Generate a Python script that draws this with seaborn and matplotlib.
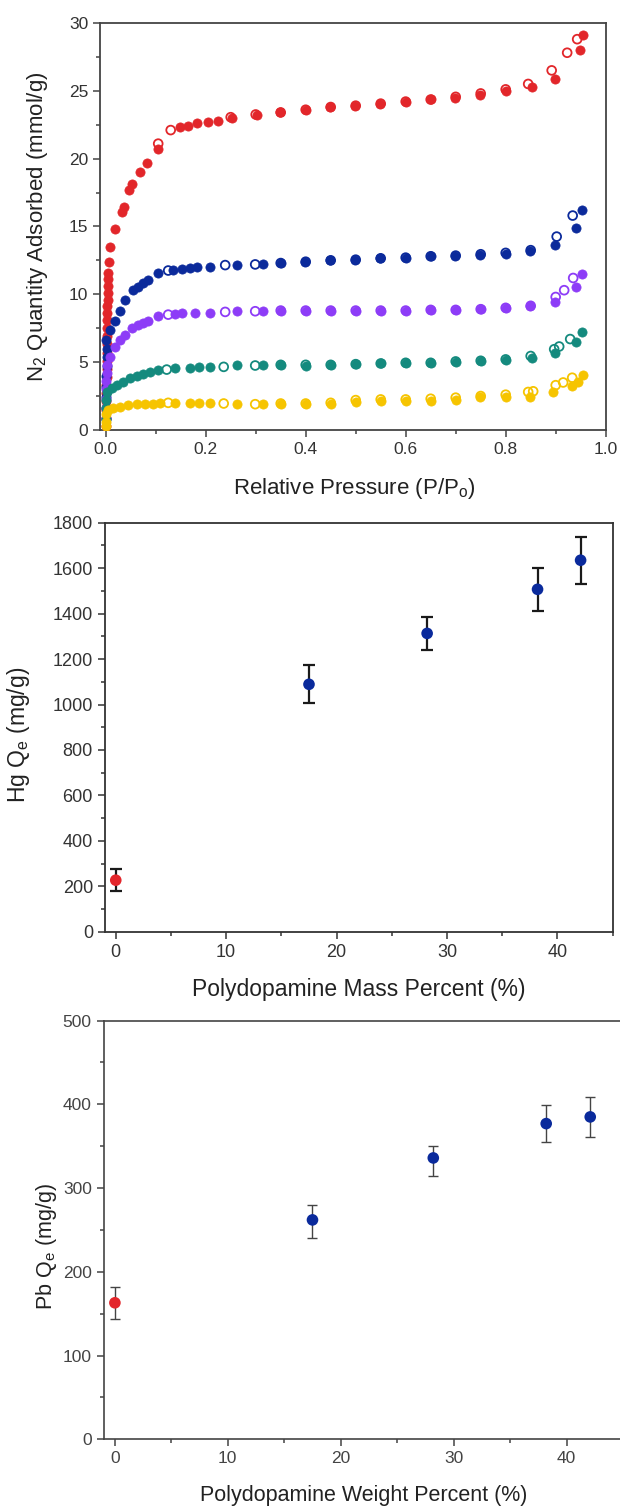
import seaborn as sns
import matplotlib.pyplot as plt
from matplotlib.ticker import MultipleLocator, FormatStrFormatter

sns.set_style("ticks")
plt.rcParams['font.family'] = ['Liberation Sans', 'DejaVu Sans']
plt.rcParams['mathtext.fontset'] = 'custom'
plt.rcParams['mathtext.rm'] = 'Liberation Sans'
plt.rcParams['mathtext.it'] = 'Liberation Sans'

# ---- N2 isotherms: filled = adsorption, open = desorption ----
red_ads_x = [0.000, 0.000, 0.001, 0.001, 0.001, 0.001, 0.002, 0.002, 0.002, 0.002,
             0.002, 0.003, 0.003, 0.003, 0.003, 0.003, 0.004, 0.004, 0.004, 0.005,
             0.005, 0.006, 0.009, 0.019, 0.033, 0.037, 0.047, 0.053, 0.069, 0.082,
             0.104, 0.149, 0.165, 0.182, 0.205, 0.225, 0.252, 0.302, 0.349, 0.400,
             0.449, 0.499, 0.549, 0.600, 0.650, 0.699, 0.749, 0.800, 0.852, 0.899,
             0.949, 0.955]
red_ads_y = [0.3, 0.9, 1.5, 2.1, 2.7, 3.3, 3.9, 4.5, 5.1, 5.7,
             6.3, 6.9, 7.5, 8.1, 8.6, 9.1, 9.6, 10.1, 10.6, 11.1,
             11.6, 12.4, 13.5, 14.8, 16.1, 16.4, 17.7, 18.1, 19.0, 19.7,
             20.7, 22.3, 22.4, 22.6, 22.7, 22.8, 23.0, 23.2, 23.4, 23.6,
             23.8, 23.9, 24.0, 24.2, 24.4, 24.5, 24.7, 25.0, 25.3, 25.9,
             28.0, 29.1]
red_des_x = [0.943, 0.923, 0.892, 0.845, 0.800, 0.750, 0.700, 0.650, 0.600, 0.550,
             0.500, 0.450, 0.400, 0.350, 0.300, 0.250, 0.130, 0.105]
red_des_y = [28.8, 27.8, 26.5, 25.5, 25.1, 24.8, 24.55, 24.35, 24.2, 24.05,
             23.9, 23.8, 23.6, 23.4, 23.25, 23.05, 22.1, 21.1]

blue_ads_x = [0.000, 0.000, 0.001, 0.001, 0.001, 0.002, 0.002, 0.002, 0.001, 0.009,
              0.019, 0.029, 0.039, 0.054, 0.065, 0.075, 0.084, 0.105, 0.135, 0.152,
              0.169, 0.183, 0.209, 0.262, 0.315, 0.351, 0.399, 0.449, 0.499, 0.549,
              0.600, 0.650, 0.699, 0.749, 0.800, 0.849, 0.899, 0.941, 0.952]
blue_ads_y = [0.8, 1.6, 2.4, 3.2, 4.0, 4.7, 5.4, 6.0, 6.6, 7.4,
              8.0, 8.8, 9.6, 10.3, 10.5, 10.8, 11.05, 11.6, 11.8, 11.85,
              11.9, 12.0, 12.0, 12.15, 12.25, 12.3, 12.4, 12.5, 12.55, 12.65,
              12.7, 12.8, 12.85, 12.9, 13.0, 13.2, 13.6, 14.9, 16.2]
blue_des_x = [0.934, 0.902, 0.850, 0.800, 0.750, 0.700, 0.650, 0.600, 0.550, 0.500,
              0.450, 0.400, 0.350, 0.299, 0.239, 0.125]
blue_des_y = [15.8, 14.25, 13.25, 13.05, 12.95, 12.85, 12.8, 12.7, 12.65, 12.55,
              12.5, 12.4, 12.3, 12.2, 12.15, 11.75]

purple_ads_x = [0.000, 0.000, 0.001, 0.001, 0.001, 0.002, 0.002, 0.009, 0.019, 0.029,
                0.039, 0.052, 0.065, 0.075, 0.085, 0.105, 0.139, 0.152, 0.179, 0.209,
                0.262, 0.315, 0.351, 0.400, 0.450, 0.500, 0.550, 0.600, 0.650, 0.700,
                0.750, 0.800, 0.849, 0.899, 0.941, 0.952]
purple_ads_y = [0.9, 1.6, 2.3, 3.0, 3.6, 4.2, 4.8, 5.4, 6.1, 6.6,
                7.0, 7.5, 7.75, 7.85, 8.0, 8.4, 8.55, 8.6, 8.65, 8.65,
                8.75, 8.8, 8.8, 8.8, 8.8, 8.8, 8.8, 8.8, 8.85, 8.85,
                8.9, 8.97, 9.1, 9.4, 10.5, 11.5]
purple_des_x = [0.935, 0.917, 0.900, 0.850, 0.800, 0.750, 0.700, 0.650, 0.600, 0.550,
                0.500, 0.450, 0.400, 0.350, 0.299, 0.239, 0.125]
purple_des_y = [11.2, 10.3, 9.8, 9.15, 9.0, 8.9, 8.85, 8.85, 8.8, 8.8,
                8.8, 8.8, 8.8, 8.8, 8.75, 8.7, 8.5]

teal_ads_x = [0.000, 0.000, 0.001, 0.002, 0.012, 0.022, 0.035, 0.049, 0.062, 0.075,
              0.089, 0.105, 0.139, 0.169, 0.186, 0.209, 0.262, 0.315, 0.351, 0.400,
              0.450, 0.500, 0.550, 0.600, 0.650, 0.700, 0.750, 0.800, 0.852, 0.899,
              0.941, 0.953]
teal_ads_y = [0.8, 1.6, 2.2, 2.8, 3.1, 3.3, 3.55, 3.8, 4.0, 4.1,
              4.3, 4.45, 4.6, 4.6, 4.65, 4.65, 4.8, 4.8, 4.8, 4.75,
              4.8, 4.85, 4.9, 4.9, 4.95, 5.0, 5.05, 5.15, 5.3, 5.65,
              6.45, 7.25]
teal_des_x = [0.929, 0.907, 0.897, 0.850, 0.800, 0.750, 0.700, 0.650, 0.600, 0.550,
              0.500, 0.450, 0.400, 0.350, 0.299, 0.236, 0.122]
teal_des_y = [6.7, 6.15, 5.95, 5.45, 5.2, 5.1, 5.05, 4.95, 4.95, 4.9,
              4.85, 4.8, 4.8, 4.8, 4.75, 4.65, 4.45]

yellow_ads_x = [0.000, 0.000, 0.001, 0.005, 0.015, 0.029, 0.045, 0.062, 0.079, 0.095,
                0.109, 0.139, 0.169, 0.186, 0.209, 0.262, 0.315, 0.351, 0.400, 0.450,
                0.500, 0.550, 0.600, 0.650, 0.700, 0.749, 0.800, 0.849, 0.895, 0.933,
                0.945, 0.954]
yellow_ads_y = [0.3, 0.6, 1.2, 1.45, 1.6, 1.7, 1.85, 1.9, 1.95, 1.95,
                2.0, 2.0, 2.0, 2.0, 2.0, 1.9, 1.95, 1.95, 1.95, 1.95,
                2.05, 2.1, 2.1, 2.15, 2.2, 2.4, 2.45, 2.45, 2.8, 3.25,
                3.55, 4.05]
yellow_des_x = [0.933, 0.915, 0.900, 0.855, 0.845, 0.800, 0.750, 0.700, 0.650, 0.600,
                0.550, 0.500, 0.450, 0.400, 0.350, 0.299, 0.236, 0.125]
yellow_des_y = [3.85, 3.5, 3.3, 2.85, 2.8, 2.6, 2.5, 2.38, 2.3, 2.25,
                2.25, 2.2, 2.0, 1.95, 1.95, 1.9, 1.95, 2.0]

isotherms = [
    ("#e2262a", red_ads_x, red_ads_y, red_des_x, red_des_y),
    ("#0b2a9b", blue_ads_x, blue_ads_y, blue_des_x, blue_des_y),
    ("#8d3cf7", purple_ads_x, purple_ads_y, purple_des_x, purple_des_y),
    ("#148a7e", teal_ads_x, teal_ads_y, teal_des_x, teal_des_y),
    ("#f6c400", yellow_ads_x, yellow_ads_y, yellow_des_x, yellow_des_y),
]

# ---- Hg uptake ----
hg_x = [0, 17.5, 28.2, 38.2, 42.1]
hg_y = [227, 1089, 1313, 1507, 1635]
hg_err = [48, 84, 73, 95, 104]
hg_colors = ["#e3262b", "#0a2a9c", "#0a2a9c", "#0a2a9c", "#0a2a9c"]

# ---- Pb uptake ----
pb_x = [0, 17.5, 28.2, 38.2, 42.1]
pb_y = [163, 262, 336, 377, 385]
pb_err_lo = [19, 22, 22, 22, 24]
pb_err_hi = [19, 18, 14, 22, 24]
pb_colors = ["#e3262b", "#0a2a9c", "#0a2a9c", "#0a2a9c", "#0a2a9c"]


def style_axes(ax, spine_color, lw, label_color):
    for side in ["left", "bottom", "top", "right"]:
        ax.spines[side].set_color(spine_color)
        ax.spines[side].set_linewidth(lw)
    ax.tick_params(which="major", direction="out", length=5, width=1.1,
                   color=spine_color, labelcolor=label_color, pad=3.5,
                   top=False, right=False)
    ax.tick_params(which="minor", direction="out", length=3, width=1.1,
                   color=spine_color, top=False, right=False)


fig = plt.figure(figsize=(6.2, 15.06), dpi=100)

# ---------------- top panel ----------------
ax1 = fig.add_axes([0.1613, 0.7145, 0.8156, 0.2703])
for c, ax_x, ax_y, de_x, de_y in isotherms:
    sns.scatterplot(x=de_x, y=de_y, ax=ax1, marker="o", s=40,
                    facecolor="none", edgecolor=c, linewidth=1.3, zorder=2)
    sns.scatterplot(x=ax_x, y=ax_y, ax=ax1, marker="o", s=44,
                    color=c, edgecolor=c, linewidth=0.5, zorder=3)
ax1.set_xlim(-0.0114, 1.0)
ax1.set_ylim(0, 30)
ax1.xaxis.set_major_locator(MultipleLocator(0.2))
ax1.xaxis.set_minor_locator(MultipleLocator(0.1))
ax1.xaxis.set_major_formatter(FormatStrFormatter("%.1f"))
ax1.yaxis.set_major_locator(MultipleLocator(5))
ax1.yaxis.set_minor_locator(MultipleLocator(2.5))
style_axes(ax1, "#444444", 1.3, "#333333")
ax1.tick_params(labelsize=12.5)
ax1.set_xlabel("Relative Pressure (P/P$_\\mathregular{o}$)", fontsize=16, color="#222222")
ax1.set_ylabel("N$_\\mathregular{2}$ Quantity Adsorbed (mmol/g)", fontsize=16, color="#222222")
ax1.xaxis.set_label_coords(0.502, -0.112)
ax1.yaxis.set_label_coords(-0.099, 0.5)

# ---------------- middle panel ----------------
ax2 = fig.add_axes([0.1689, 0.3813, 0.8192, 0.2716])
ax2.errorbar(hg_x, hg_y, yerr=hg_err, fmt="none", ecolor="#1a1a1a",
             elinewidth=1.6, capsize=4, capthick=1.6, zorder=2)
sns.scatterplot(x=hg_x, y=hg_y, hue=hg_x, palette=hg_colors, ax=ax2,
                marker="o", s=70, edgecolor="none", legend=False, zorder=3)
ax2.set_xlim(-1, 45)
ax2.set_ylim(0, 1800)
ax2.xaxis.set_major_locator(MultipleLocator(10))
ax2.xaxis.set_minor_locator(MultipleLocator(5))
ax2.yaxis.set_major_locator(MultipleLocator(200))
ax2.yaxis.set_minor_locator(MultipleLocator(100))
style_axes(ax2, "#333333", 1.3, "#333333")
ax2.tick_params(labelsize=13)
ax2.set_xlabel("Polydopamine Mass Percent (%)", fontsize=16.5, color="#222222")
ax2.set_ylabel("Hg Q$_\\mathregular{e}$ (mg/g)", fontsize=16.5, color="#222222")
ax2.xaxis.set_label_coords(0.5, -0.113)
ax2.yaxis.set_label_coords(-0.144, 0.48)

# ---------------- bottom panel ----------------
ax3 = fig.add_axes([0.1671, 0.0443, 0.8377, 0.2780])
ax3.errorbar(pb_x, pb_y, yerr=[pb_err_lo, pb_err_hi], fmt="none",
             ecolor="#444444", elinewidth=1.0, capsize=3.5, capthick=1.0, zorder=2)
sns.scatterplot(x=pb_x, y=pb_y, hue=pb_x, palette=pb_colors, ax=ax3,
                marker="o", s=70, edgecolor="none", legend=False, zorder=3)
ax3.set_xlim(-1, 45)
ax3.set_ylim(0, 500)
ax3.xaxis.set_major_locator(MultipleLocator(10))
ax3.xaxis.set_minor_locator(MultipleLocator(5))
ax3.yaxis.set_major_locator(MultipleLocator(100))
ax3.yaxis.set_minor_locator(MultipleLocator(50))
style_axes(ax3, "#444444", 1.2, "#444444")
ax3.tick_params(labelsize=12.5)
ax3.set_xlabel("Polydopamine Weight Percent (%)", fontsize=15.5, color="#222222")
ax3.set_ylabel("Pb Q$_\\mathregular{e}$ (mg/g)", fontsize=15.5, color="#222222")
ax3.xaxis.set_label_coords(0.5, -0.109)
ax3.yaxis.set_label_coords(-0.085, 0.46)

fig.savefig("out.png", dpi=100)
